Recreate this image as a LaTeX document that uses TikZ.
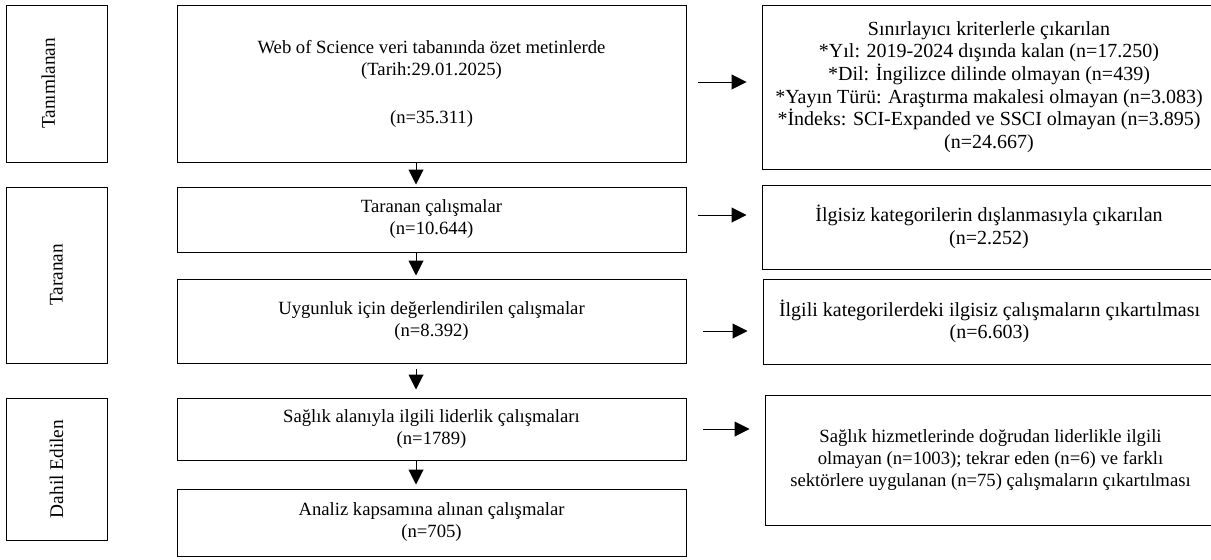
\documentclass[tikz,border=0pt]{standalone}
\usepackage{fontspec}
\setmainfont{Liberation Serif}
\usetikzlibrary{arrows.meta, positioning}
\tikzset{
    block/.style={
        rectangle,
        draw=black,
        line width=0.6pt,
        align=center,
        inner sep=2pt,
        font=\fontsize{11.2}{13.2}\selectfont
    },
    outbox/.style={
        block,
        font=\fontsize{12}{13.6}\selectfont
    },
    dim/.style 2 args={
        minimum width=#1*0.6pt,
        minimum height=#2*0.6pt
    },
    stage/.style={
        block,
        rotate=90,
        font=\fontsize{11.6}{13.6}\selectfont
    },
    arrow/.style={
        line width=0.6pt,
        -{Triangle[length=9pt,width=9pt]}
    }
}

\begin{document}
\begin{tikzpicture}[x=0.6pt, y=-0.6pt]
\useasboundingbox (0,0) rectangle (1211,559);

% asamalar
\node (tanimlanan) [stage, dim={157}{101}] at (56.5,83.5) {\raisebox{5pt}[\height][\depth]{Tanımlanan}};
\node (taranan) [stage, dim={176}{101}] at (56.5,275) {Taranan};
\node (dahil) [stage, dim={142}{101}] at (56.5,469) {Dahil Edilen};

% akis
\node (kaynak) [block, dim={509}{157}] at (431.5,83.5) {Web of Science veri tabanında özet metinlerde\\(Tarih:29.01.2025)\\[15.6pt](n=35.311)};
\node (tarama) [block, dim={509}{65}] at (431.5,219.5) {Taranan çalışmalar\\(n=10.644)};
\node (uygunluk) [block, dim={509}{84}] at (431.5,321) {Uygunluk için değerlendirilen çalışmalar\\(n=8.392)};
\node (saglik) [block, dim={509}{62}] at (431.5,429) {Sağlık alanıyla ilgili liderlik çalışmaları\\(n=1789)};
\node (analiz) [block, dim={509}{67}] at (431.5,522.5) {Analiz kapsamına alınan çalışmalar\\(n=705)};

% cikarilanlar
\node (sinirlama) [outbox, dim={454}{164}] at (989,87) {Sınırlayıcı kriterlerle çıkarılan\\*Yıl: 2019-2024 dışında kalan (n=17.250)\\*Dil: İngilizce dilinde olmayan (n=439)\\*Yayın Türü: Araştırma makalesi olmayan (n=3.083)\\*İndeks: SCI-Expanded ve SSCI olmayan (n=3.895)\\(n=24.667)};
\node (kategori) [outbox, dim={454}{84}] at (989,227) {İlgisiz kategorilerin dışlanmasıyla çıkarılan\\(n=2.252)};
\node (ilgisiz) [outbox, dim={453}{85}] at (989.5,321.5) {İlgili kategorilerdeki ilgisiz çalışmaların çıkartılması\\(n=6.603)};
\node (kapsam) [block, dim={451}{130}] at (990.5,460) {Sağlık hizmetlerinde doğrudan liderlikle ilgili\\olmayan (n=1003); tekrar eden (n=6) ve farklı\\sektörlere uygulanan (n=75) çalışmaların çıkartılması};

\coordinate (akis) at (416,0);

\draw [arrow, shorten >=1.2pt] (kaynak.south -| akis) -- (tarama.north -| akis);
\draw [arrow, shorten >=1.8pt] (tarama.south -| akis) -- (uygunluk.north -| akis);
\draw [arrow, shorten <=3pt, shorten >=4.8pt] (uygunluk.south -| akis) -- (saglik.north -| akis);
\draw [arrow, shorten >=2.4pt] (saglik.south -| akis) -- (analiz.north -| akis);

\draw [arrow, shorten <=7pt, shorten >=9pt] ([yshift=0.9pt]kaynak.east) -- ([yshift=0.9pt]kaynak.east -| sinirlama.west);
\draw [arrow, shorten <=7pt, shorten >=9pt] ([yshift=2.7pt]tarama.east) -- ([yshift=2.7pt]tarama.east -| kategori.west);
\draw [arrow, shorten <=10pt, shorten >=9pt] ([yshift=-6pt]uygunluk.east) -- ([yshift=-6pt]uygunluk.east -| ilgisiz.west);
\draw [arrow, shorten <=10pt, shorten >=9pt] (saglik.east) -- (saglik.east -| kapsam.west);

\end{tikzpicture}
\end{document}
